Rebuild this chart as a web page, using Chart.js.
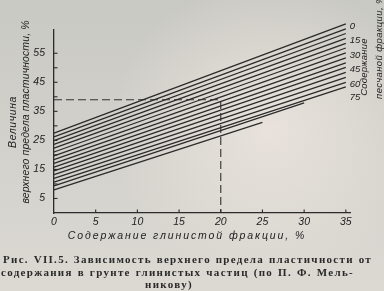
<!DOCTYPE html>
<html><head><meta charset="utf-8">
<script src="https://cdn.jsdelivr.net/npm/chart.js@4/dist/chart.umd.min.js"></script>
<style>
html,body{margin:0;padding:0;}
#wrap{position:relative;width:384px;height:291px;overflow:hidden;
 background:radial-gradient(ellipse 160px 150px at 270px 130px, rgba(236,228,222,0.9), rgba(236,228,222,0) 100%),
 linear-gradient(180deg,#c9c9c3 0%,#d3d2cc 55%,#dcd9d3 100%);}
canvas{position:absolute;left:0;top:0;}
.r{position:absolute;white-space:nowrap;transform:translate(-50%,-50%) rotate(-90deg);
 font-family:"Liberation Sans",sans-serif;font-style:italic;color:#222;font-size:10.5px;}
.xt{position:absolute;white-space:nowrap;transform:translate(-50%,-50%);
 font-family:"Liberation Sans",sans-serif;font-style:italic;color:#222;font-size:10.5px;letter-spacing:1.9px;}
.cap{position:absolute;font-family:"Liberation Serif",serif;font-size:11px;font-weight:bold;line-height:13px;color:#2a2a2a;
 text-align:justify;text-align-last:justify;letter-spacing:1.3px;}
</style></head>
<body>
<div id="wrap">
<canvas id="c" width="384" height="291"></canvas>
<div class="r" style="left:12px;top:122px;letter-spacing:0.6px;">Величина</div>
<div class="r" style="left:25px;top:112px;letter-spacing:0.1px;">верхнего предела пластичности, %</div>
<div class="r" style="left:363px;top:67px;font-size:9.5px;letter-spacing:0.2px;">Содержание</div>
<div class="r" style="left:378px;top:47px;font-size:9.5px;letter-spacing:0.4px;">песчаной фракции, %</div>
<div class="xt" style="left:187px;top:235px;">Содержание глинистой фракции, %</div>
<div class="cap" style="left:3px;top:253px;width:369px;">Рис. VII.5. Зависимость верхнего предела пластичности от</div>
<div class="cap" style="left:1px;top:266px;width:353px;">содержания в грунте глинистых частиц (по П. Ф. Мель-</div>
<div class="cap" style="left:145px;top:278px;width:70px;text-align-last:left;">никову)</div>
</div>
<script>
// sand-fraction content of each line, %
const sandPct = [0,5,10,15,20,25,30,35,40,45,50,55,60,65,70,75];
// value at clay content 0 %
const startY = [27.5,26.2,24.9,23.6,22.3,21.0,19.7,18.4,17.1,15.8,14.5,13.2,11.9,10.6,9.3,8.0];
// clay content where each line ends, and value there
const endX = [35,35,35,35,35,35,35,35,35,35,35,35,35,35,30,25];
const endY = [65.1,63.4,61.8,60.1,58.4,56.8,55.1,53.4,51.7,50.1,48.4,46.7,45.0,43.4,37.9,31.2];
// labelled lines on the right
const labelledPct = [0,15,30,45,60,75];
// worked example (dashed guide)
const guideX = [0,20,20];
const guideY = [39,39,0];
// tick labels
const xTicks = [0,5,10,15,20,25,30,35];
const yLabelled = [5,15,25,35,45,55];

const ink = '#2b2b2b';
const datasets = sandPct.map((p,i)=>({
  label: p+'%',
  data: [{x:0,y:startY[i]},{x:endX[i],y:endY[i]}],
  borderColor: ink, borderWidth: 1.3, pointRadius: 0, fill:false, clip:false
}));
datasets.push({label:'guide', data: guideX.map((x,i)=>({x, y:guideY[i]})),
  borderColor:'#333', borderWidth:1.1, borderDash:[8,4], pointRadius:0, fill:false});

const inwardTicks = {
  id:'inwardTicks',
  afterDraw(chart){
    const {ctx, scales:{x,y}} = chart;
    ctx.save(); ctx.strokeStyle = ink; ctx.lineWidth = 1.1;
    y.ticks.forEach(t=>{ if(t.value<=0) return; const py=y.getPixelForValue(t.value);
      ctx.beginPath(); ctx.moveTo(x.left,py); ctx.lineTo(x.left+3.5,py); ctx.stroke(); });
    x.ticks.forEach(t=>{ if(t.value<=0) return; const px=x.getPixelForValue(t.value);
      ctx.beginPath(); ctx.moveTo(px,y.bottom); ctx.lineTo(px,y.bottom-3.5); ctx.stroke(); });
    // right-hand line labels
    ctx.fillStyle = '#222'; ctx.font = 'italic 9.5px "Liberation Sans"';
    ctx.textBaseline = 'middle'; ctx.textAlign = 'left';
    labelledPct.forEach(p=>{
      const i = sandPct.indexOf(p);
      const slope = (endY[i]-startY[i])/endX[i];
      const v = startY[i] + slope*35;
      ctx.fillText(String(p), x.getPixelForValue(35)+4, y.getPixelForValue(v)+2);
    });
    ctx.restore();
  }
};

new Chart(document.getElementById('c'), {
  type:'line',
  data:{datasets},
  options:{
    responsive:false, animation:false,
    layout:{padding:{left:0,right:34,top:30,bottom:0}},
    plugins:{legend:{display:false}, tooltip:{enabled:false}},
    scales:{
      x:{type:'linear', min:0, max:35.5,
        afterBuildTicks(s){ s.ticks = xTicks.map(v=>({value:v})); },
        afterFit(s){ s.height = 78; },
        grid:{display:true, drawOnChartArea:false, drawTicks:false},
        border:{display:true, color:ink, width:1.3},
        ticks:{padding:3, color:'#222', font:{family:'Liberation Sans', style:'italic', size:10.5}, maxRotation:0}
      },
      y:{type:'linear', min:0, max:63,
        afterBuildTicks(s){ s.ticks = s.ticks.filter(t=>t.value%5===0); },
        afterFit(s){ s.width = 54; },
        grid:{display:true, drawOnChartArea:false, drawTicks:false},
        border:{display:true, color:ink, width:1.3},
        ticks:{stepSize:5, padding:9, color:'#222', font:{family:'Liberation Sans', style:'italic', size:10.5},
          callback:v=> yLabelled.includes(v) ? String(v) : ''}
      }
    }
  },
  plugins:[inwardTicks]
});
</script>
</body></html>
